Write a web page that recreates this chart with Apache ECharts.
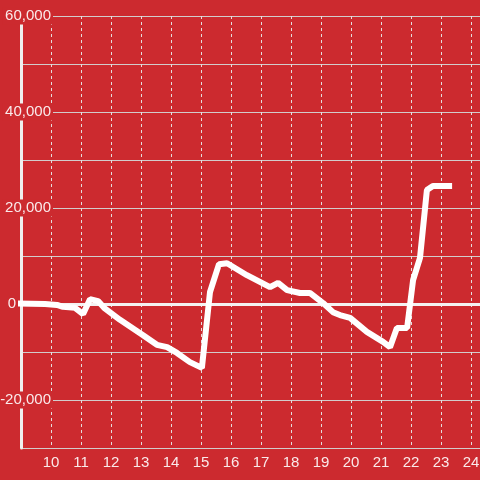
<!DOCTYPE html>
<html>
<head>
<meta charset="utf-8">
<script src="https://cdn.jsdelivr.net/npm/echarts@6/dist/echarts.min.js"></script>
<style>
html,body{margin:0;padding:0;background:#cc2a2f;}
#chart{width:480px;height:480px;}
</style>
</head>
<body>
<div id="chart"></div>
<script>
// Data
var xValues = [8.87, 9.8, 10.2, 10.4, 10.8, 11.07, 11.3, 11.57, 11.77, 12.3, 13.07, 13.53, 13.87, 14.2, 14.63, 15.03, 15.3, 15.6, 15.87, 16.53, 17.3, 17.57, 17.87, 18.3, 18.63, 19.07, 19.4, 19.63, 19.97, 20.53, 21.07, 21.3, 21.53, 21.87, 22.07, 22.3, 22.53, 22.73, 23.37];
var yValues = [100, 0, -200, -600, -800, -2100, 1000, 600, -800, -3300, -6500, -8500, -9000, -10200, -12100, -13300, 2500, 8300, 8500, 6000, 3500, 4400, 2900, 2300, 2300, 200, -1700, -2300, -2900, -5800, -7900, -9000, -5000, -5000, 5000, 9600, 23750, 24600, 24600];
var yTickLabels = ['60,000', '40,000', '20,000', '0', '-20,000'];
var xTickLabels = ['10','11','12','13','14','15','16','17','18','19','20','21','22','23','24'];

var bg = '#cc2a2f';
var points = xValues.map(function (x, i) { return [x, yValues[i]]; });

var chart = echarts.init(document.getElementById('chart'));
chart.setOption({
  animation: false,
  backgroundColor: bg,
  grid: { left: 21, right: 0, top: 16, bottom: 32, containLabel: false, outerBoundsMode: 'none' },
  xAxis: {
    type: 'value',
    min: 9,
    max: 24.3,
    interval: 1,
    axisLine: { show: false },
    axisTick: { show: false },
    axisLabel: {
      color: 'rgba(255,255,255,0.9)',
      fontFamily: 'Liberation Sans',
      fontSize: 15,
      margin: 7,
      showMaxLabel: false,
      hideOverlap: false,
      formatter: function (v) {
        var s = String(v);
        return xTickLabels.indexOf(s) >= 0 ? s : '';
      }
    },
    splitLine: { show: true, lineStyle: { color: '#e4dede', width: 1, type: [3, 3] } }
  },
  yAxis: {
    type: 'value',
    min: -30000,
    max: 60000,
    interval: 10000,
    axisLine: { show: true, lineStyle: { color: '#f0eeee', width: 3 } },
    axisTick: { show: false },
    axisLabel: {
      inside: true,
      align: 'right',
      margin: 32,
      fontFamily: 'Liberation Sans',
      fontSize: 15,
      color: 'rgba(255,255,255,0.9)',
      formatter: function (v) {
        var s = v.toLocaleString('en-US');
        if (yTickLabels.indexOf(s) < 0) return '';
        if (v === 0) return '{z|0}';
        return '{a|' + s + '}';
      },
      rich: {
        a: { backgroundColor: bg, padding: [1, 2, 1, 3], fontSize: 15, fontFamily: 'Liberation Sans', color: 'rgba(255,255,255,0.9)' },
        z: { padding: [0, 37, 0, 0], fontSize: 15, fontFamily: 'Liberation Sans', color: 'rgba(255,255,255,0.9)' }
      }
    },
    splitLine: { show: true, lineStyle: { color: '#d2cccc', width: 1 } }
  },
  series: [{
    type: 'line',
    data: points,
    clip: false,
    showSymbol: false,
    symbol: 'none',
    lineStyle: { color: '#ffffff', width: 6 },
    markLine: {
      silent: true,
      symbol: 'none',
      label: { show: false },
      lineStyle: { color: '#f4f2f2', width: 3, type: 'solid' },
      data: [{ yAxis: 0 }],
      z: 1
    },
    z: 3
  }]
});
</script>
</body>
</html>
